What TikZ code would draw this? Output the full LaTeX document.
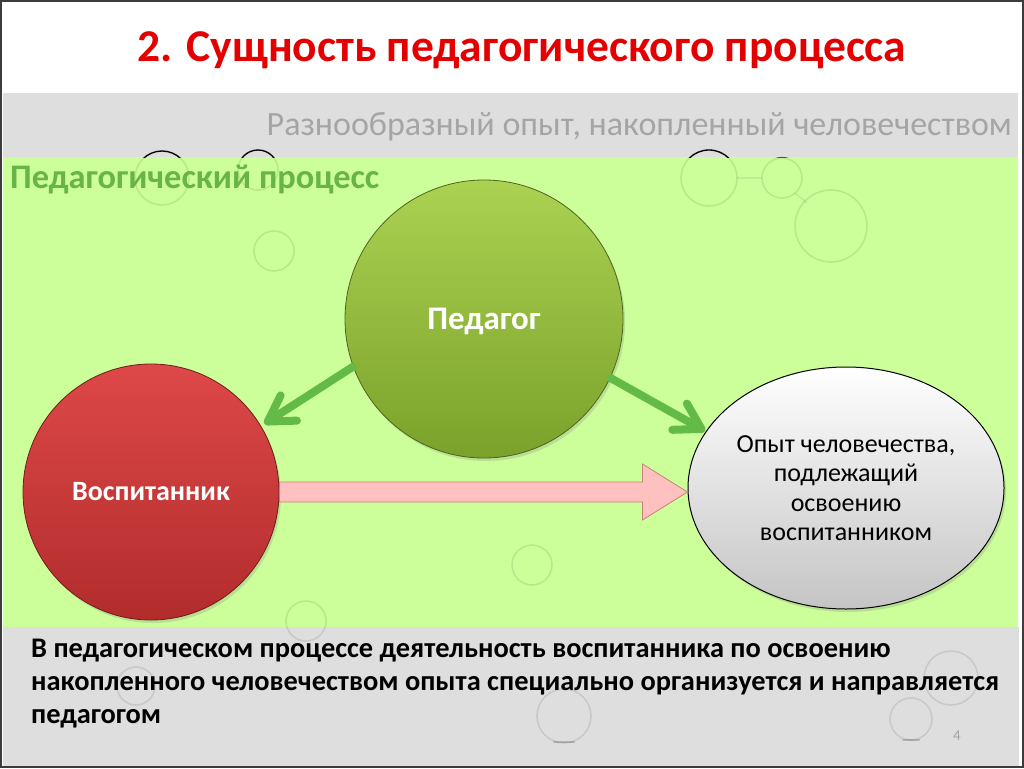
\documentclass[tikz,border=0pt]{standalone}
\usepackage{fontspec}
\setmainfont{Carlito}
\usetikzlibrary{arrows.meta,shadows,calc,shapes.geometric}
\definecolor{bandgray}{RGB}{222,222,222}
\definecolor{bggreen}{RGB}{204,255,153}
\definecolor{titlered}{RGB}{228,0,0}
\definecolor{subgray}{RGB}{165,165,165}
\definecolor{labgreen}{RGB}{105,180,70}
\definecolor{arrgreen}{RGB}{100,186,70}
\definecolor{pedtop}{RGB}{172,210,82}
\definecolor{pedbot}{RGB}{122,162,42}
\definecolor{pededge}{RGB}{80,100,30}
\definecolor{redtop}{RGB}{222,72,72}
\definecolor{redbot}{RGB}{178,44,44}
\definecolor{rededge}{RGB}{110,30,25}
\definecolor{pinkfill}{RGB}{255,192,192}
\definecolor{pinkedge}{RGB}{200,130,118}
\definecolor{framegray}{RGB}{60,60,60}
\tikzset{
  bubble/.style={draw=black, draw opacity=0.09, line width=1.6pt},
  bubblelink/.style={draw=black, draw opacity=0.07, line width=1.6pt},
  arcmark/.style={draw=black, line width=1.3pt},
  ballshadow/.style={drop shadow={shadow xshift=2pt, shadow yshift=-3pt, opacity=0.25}},
  garrow/.style={draw=arrgreen, line width=8pt, line cap=round,
    -{Straight Barb[length=25pt,width=30pt,round]}},
  maintext/.style={font=\bfseries\fontsize{28.4}{33}\selectfont, text=black, anchor=base west, inner sep=0pt}
}
\begin{document}
\begin{tikzpicture}[x=1pt,y=-1pt]
\useasboundingbox (0,0) rectangle (1024,768);
\fill[white] (0,0) rectangle (1024,768);
\fill[bandgray] (3,93) rectangle (1018,157);
\fill[bggreen] (3,157) rectangle (1018,627);
\fill[bandgray] (3,627) rectangle (1019,766);

% decorative bubbles
\draw[bubble] (162,178) circle (27);
\draw[bubble] (258,170) circle (20);
\draw[bubble] (274,251) circle (20);
\draw[bubble] (709,178) circle (28);
\draw[bubble] (782,178) circle (20);
\draw[bubble] (831,226) circle (36);
\draw[bubblelink] (737,178) -- (762,178);
\draw[bubblelink] (795,193) -- (807,203);
\draw[bubble] (532,565) circle (20);
\draw[bubble] (306,621) circle (20);
\draw[bubble] (136,686) circle (19);
\draw[bubble] (564,716) circle (27);
\draw[bubble] (951,678) circle (27);
\draw[bubble] (911,719) circle (21);
\draw[draw=black, draw opacity=0.18, line width=2pt, line cap=round] (554,742) -- (574,742);
\draw[draw=black, draw opacity=0.18, line width=2pt, line cap=round] (903,740) -- (919,740);
\begin{scope}
  \clip (3,140) rectangle (1018,157.5);
  \draw[arcmark] (162,178) circle (27);
  \draw[arcmark] (258,170) circle (20);
  \draw[arcmark] (709,178) circle (28);
  \draw[arcmark, draw opacity=0.6] (782,178) circle (20.5);
\end{scope}

% titles
\node[font=\bfseries\fontsize{45.5}{50}\selectfont, text=titlered, anchor=base, inner sep=0pt] (title) at (522,62) {2. Сущность педагогического процесса};
\node[font=\fontsize{34}{40}\selectfont, text=subgray, anchor=base east, inner sep=0pt] (sub) at (1012,135) {Разнообразный опыт, накопленный человечеством};
\node[font=\bfseries\fontsize{34.4}{38}\selectfont, text=labgreen, anchor=base west, inner sep=0pt] (proc) at (10,188) {Педагогический процесс};

% main nodes
\node[circle, minimum size=278pt, inner sep=0pt, top color=pedtop, bottom color=pedbot, draw=pededge, line width=0.8pt, ballshadow,
  text=white, font=\bfseries\fontsize{33}{38}\selectfont, text depth=0pt] (ped) at (484,319) {Педагог};
\node[circle, minimum size=256pt, inner sep=0pt, top color=redtop, bottom color=redbot, draw=rededge, line width=0.8pt, ballshadow,
  text=white, font=\bfseries\fontsize{28}{32}\selectfont] (vosp) at (151,492) {Воспитанник};
\node[ellipse, minimum width=316pt, minimum height=242pt, inner sep=0pt, top color=white, bottom color=black!23, draw=black, line width=1pt, ballshadow,
  align=center, font=\fontsize{26}{29.5}\selectfont] (op) at (846,488) {Опыт человечества,\\подлежащий\\освоению\\воспитанником};

% arrows
\draw[garrow, shorten >=4pt] (ped.200) -- (vosp.31);
\draw[garrow, shorten >=1pt] (ped.335) -- (op.158);
\fill[pinkfill, draw=pinkedge, line width=0.8pt, line join=miter]
  ($(vosp.east)+(0,-10)$) --
  ($(op.west |- vosp.east)+(-45,-10)$) --
  ($(op.west |- vosp.east)+(-45,-28)$) --
  ($(op.west |- vosp.east)+(0,0)$) --
  ($(op.west |- vosp.east)+(-45,28)$) --
  ($(op.west |- vosp.east)+(-45,10)$) --
  ($(vosp.east)+(0,10)$) -- cycle;

% bottom text
\node[maintext] (t1) at (31,657) {В педагогическом процессе деятельность воспитанника по освоению};
\node[maintext] (t2) at (31,690) {накопленного человечеством опыта специально организуется и направляется};
\node[maintext] (t3) at (31,723) {педагогом};
\node[font=\fontsize{15}{18}\selectfont, text=subgray, anchor=base, inner sep=0pt] (num) at (957,740) {4};

\draw[framegray, line width=2pt] (1,1) rectangle (1023,767);
\end{tikzpicture}
\end{document}
